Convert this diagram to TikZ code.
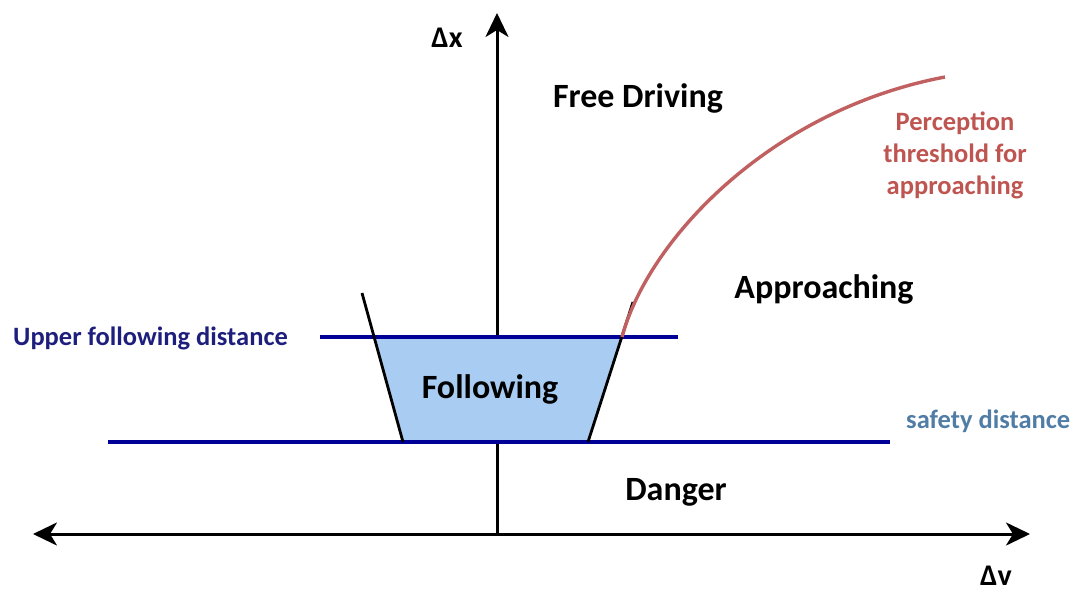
\documentclass[tikz,border=0pt]{standalone}
\usepackage{fontspec}
\setmainfont{Carlito}
\usepackage{tikz}
\usetikzlibrary{arrows.meta}
\definecolor{linenavy}{RGB}{0,0,150}
\definecolor{labelnavy}{RGB}{30,30,125}
\definecolor{safeblue}{RGB}{80,125,165}
\definecolor{followfill}{RGB}{168,204,242}
\definecolor{threshred}{RGB}{192,96,96}
\definecolor{threshtext}{RGB}{190,85,80}

\begin{document}
\begin{tikzpicture}[x=1pt,y=-1pt,
    >={Stealth[length=24pt,width=23pt,inset=7pt]},
    region/.style={font=\bfseries\fontsize{34}{40}\selectfont,inner sep=0pt},
    sidelabel/.style={font=\bfseries\fontsize{26.5}{32}\selectfont,inner sep=0pt,align=center},
    axislabel/.style={font=\bfseries\fontsize{30}{36}\selectfont,inner sep=0pt},
    distline/.style={linenavy,line width=4.5pt},
    edge/.style={line width=2.8pt}]
  \useasboundingbox (0,0) rectangle (1072,597);

  % 座標軸
  \coordinate (xl) at (33,534);
  \coordinate (xr) at (1030,534);
  \coordinate (o) at (497,534);
  \coordinate (yt) at (497,13);
  \draw[<->,line width=3pt] (xl) -- (xr);
  \draw[->,line width=3pt] (o) -- (yt);
  \node[axislabel] (dx) at (447,38) {Δx};
  \node[axislabel] (dv) at (996,576) {Δv};

  % 追従領域
  \coordinate (fa) at (374,337);
  \coordinate (fb) at (622,337);
  \coordinate (fc) at (588,442);
  \coordinate (fd) at (403,442);
  \fill[followfill] (fa) -- (fb) -- (fc) -- (fd) -- cycle;

  % 距離の線
  \coordinate (ua) at (320,337);
  \coordinate (ub) at (678,337);
  \coordinate (sa) at (108,442);
  \coordinate (sb) at (890,442);
  \draw[distline] (ua) -- (ub);
  \draw[distline] (sa) -- (sb);

  % 台形の辺
  \coordinate (et1) at (362,293);
  \coordinate (et2) at (633,302);
  \draw[edge] (et1) -- (fd);
  \draw[edge] (et2) -- (fc);

  % 知覚閾値
  \coordinate (te) at (945,77);
  \draw[threshred,line width=3.4pt]
    (fb) .. controls (648,240) and (770,110) .. (te);

  % 領域の名前
  \node[region] (free) at (638,98) {Free Driving};
  \node[region] (appr) at (824,289) {Approaching};
  \node[region] (foll) at (490,389) {Following};
  \node[region] (dang) at (676,492) {Danger};

  % 線の名前
  \node[sidelabel,text=labelnavy,anchor=west] (upper) at (13,338) {Upper following distance};
  \node[sidelabel,text=safeblue,anchor=west] (safe) at (906,421) {safety distance};
  \node[sidelabel,text=threshtext] (thr) at (955,155)
    {Perception\\threshold for\\approaching};
\end{tikzpicture}
\end{document}
